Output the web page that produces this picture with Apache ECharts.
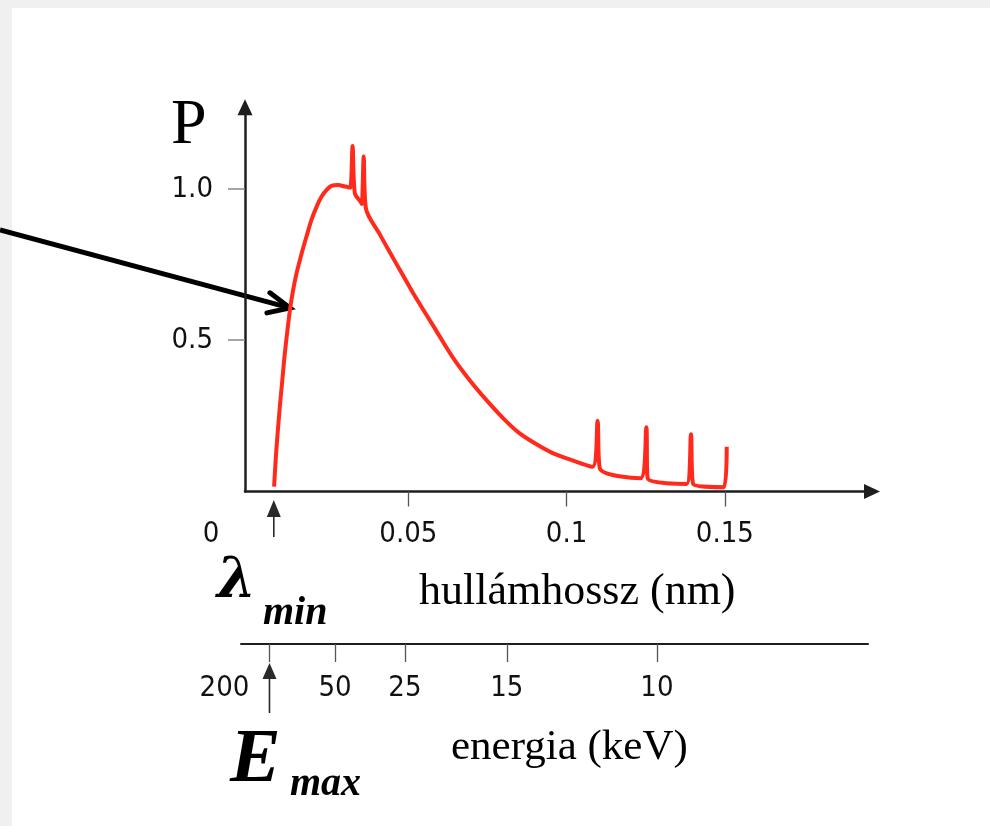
<!DOCTYPE html>
<html>
<head>
<meta charset="utf-8">
<script src="https://cdn.jsdelivr.net/npm/echarts@6/dist/echarts.min.js"></script>
<style>
  html, body { margin: 0; padding: 0; background: #fff; }
  #chart {
    width: 990px; height: 826px;
    background: #fff;
    box-shadow: inset 12px 8px 0 #f0f0f0;
  }
</style>
</head>
<body>
<div id="chart"></div>
<script>
// spectrum: wavelength (nm), relative power P
var wavelength = [0.0076, 0.0083, 0.0094, 0.0102, 0.0110, 0.0126, 0.0136, 0.0147, 0.0163, 0.0178,
    0.0194, 0.0210, 0.0226, 0.0242, 0.0257, 0.0278, 0.0300, 0.0310, 0.0317, 0.0324,
    0.0331, 0.0349, 0.0353, 0.0359, 0.0366, 0.0410, 0.0442, 0.0473, 0.0514, 0.0536,
    0.0589, 0.0642, 0.0694, 0.0747, 0.0800, 0.0852, 0.0905, 0.0958, 0.1010, 0.1082,
    0.1098, 0.1105, 0.1234, 0.1252, 0.1256, 0.1379, 0.1393, 0.1400, 0.1497, 0.1506];
var power = [0.016, 0.137, 0.280, 0.369, 0.458, 0.600, 0.666, 0.722, 0.787, 0.842,
    0.898, 0.941, 0.975, 0.997, 1.010, 1.013, 1.008, 1.006, 1.005, 1.142,
    0.986, 0.958, 0.950, 1.107, 0.936, 0.850, 0.790, 0.733, 0.658, 0.620,
    0.530, 0.441, 0.368, 0.302, 0.242, 0.192, 0.156, 0.126, 0.106, 0.082,
    0.234, 0.077, 0.044, 0.212, 0.044, 0.025, 0.189, 0.025, 0.014, 0.148];

var wlTicks = [0, 0.05, 0.1, 0.15];
var pTicks = [0.5, 1.0];

// energy scale (keV) drawn under the wavelength axis, at the wavelengths where it sits
var energyLabels = ['200', '50', '25', '15', '10'];
var energyPos = [0.0061, 0.0268, 0.0489, 0.0811, 0.1285];

var lambdaMin = 0.0075;
var eMaxPos = 0.0061;

var numFont = "'Liberation Sans Narrow', 'DejaVu Sans Condensed', 'Liberation Sans', sans-serif";
var serif = "'Liberation Serif', 'DejaVu Serif', serif";

var spectrum = wavelength.map(function (w, i) { return [w, power[i]]; });

function upArrow(tipOff, headOff, endOff) {
    return function (params, api) {
        var p = api.coord([api.value(0), 0]);
        return {
            type: 'group',
            children: [{
                type: 'polygon',
                shape: { points: [[p[0], p[1] + tipOff], [p[0] - 7, p[1] + headOff], [p[0] + 7, p[1] + headOff]] },
                style: { fill: '#2a2a2a' }
            }, {
                type: 'line',
                shape: { x1: p[0], y1: p[1] + headOff, x2: p[0], y2: p[1] + endOff },
                style: { stroke: '#2a2a2a', lineWidth: 1.6 }
            }]
        };
    };
}

function txt(text, left, top, size, family, weight, style) {
    return {
        type: 'text', left: left, top: top,
        style: {
            text: text, fill: '#000',
            fontSize: size, fontFamily: family,
            fontWeight: weight || 'normal', fontStyle: style || 'normal'
        }
    };
}

var myChart = echarts.init(document.getElementById('chart'));

var option = {
    animation: false,
    grid: [
        { left: 245, right: 118, top: 107.3, bottom: 334.5 },
        { left: 241, right: 122, top: 643, height: 1 }
    ],
    xAxis: [{
        gridIndex: 0,
        type: 'value',
        min: -0.0016,
        max: 0.1965,
        splitLine: { show: false },
        axisLine: {
            onZero: false,
            symbol: ['none', 'triangle'],
            symbolSize: [15, 16],
            lineStyle: { color: '#1e1e1e', width: 2.5 }
        },
        axisTick: {
            customValues: [0.05, 0.1, 0.15],
            length: 15,
            lineStyle: { color: '#555', width: 1.3 }
        },
        axisLabel: {
            customValues: wlTicks,
            margin: 28,
            color: '#111',
            fontFamily: numFont,
            fontSize: 29,
            formatter: function (v) {
                if (Math.abs(v) < 1e-9) return '{z|0}';
                return String(+v.toFixed(2));
            },
            rich: {
                z: { fontFamily: numFont, fontSize: 29, color: '#111', padding: [0, 78, 0, 0] }
            }
        }
    }, {
        gridIndex: 1,
        type: 'value',
        min: -0.0029,
        max: 0.1952,
        splitLine: { show: false },
        axisLine: {
            onZero: false,
            lineStyle: { color: '#1e1e1e', width: 2 }
        },
        axisTick: {
            customValues: energyPos,
            length: 18,
            lineStyle: { color: '#555', width: 1.3 }
        },
        axisLabel: {
            customValues: energyPos,
            margin: 30,
            color: '#111',
            fontFamily: numFont,
            fontSize: 29,
            formatter: function (v) {
                var best = 0;
                energyPos.forEach(function (p, i) {
                    if (Math.abs(p - v) < Math.abs(energyPos[best] - v)) best = i;
                });
                if (best === 0) return '{z|' + energyLabels[0] + '}';
                return energyLabels[best];
            },
            rich: {
                z: { fontFamily: numFont, fontSize: 29, color: '#111', padding: [0, 90, 0, 0] }
            }
        }
    }],
    yAxis: [{
        gridIndex: 0,
        type: 'value',
        min: 0,
        max: 1.27,
        splitLine: { show: false },
        axisLine: {
            show: true,
            onZero: false,
            symbol: ['none', 'triangle'],
            symbolSize: [15, 16],
            lineStyle: { color: '#1e1e1e', width: 2.5 }
        },
        axisTick: {
            show: true,
            customValues: pTicks,
            length: 17,
            lineStyle: { color: '#888', width: 1.5 }
        },
        axisLabel: {
            customValues: pTicks,
            margin: 32,
            color: '#111',
            fontFamily: numFont,
            fontSize: 29,
            padding: [8, 0, 0, 0],
            formatter: function (v) { return v.toFixed(1); }
        }
    }, {
        gridIndex: 1,
        type: 'value',
        min: 0,
        max: 1,
        show: false
    }],
    series: [{
        type: 'line',
        xAxisIndex: 0,
        yAxisIndex: 0,
        data: spectrum,
        symbol: 'none',
        smooth: 0.3,
        lineStyle: { color: '#ff2a1c', width: 4, join: 'round' }
    }, {
        type: 'custom',
        xAxisIndex: 0,
        yAxisIndex: 0,
        data: [[lambdaMin]],
        renderItem: upArrow(8.5, 25.5, 45.5)
    }, {
        type: 'custom',
        xAxisIndex: 1,
        yAxisIndex: 1,
        data: [[eMaxPos]],
        renderItem: upArrow(19, 35, 69)
    }]
};
myChart.setOption(option);

// pointer arrow from the left edge onto the rising flank of the curve
var tip = myChart.convertToPixel({ gridIndex: 0 }, [0.0126, 0.607]);
var startY = tip[1] - tip[0] * 0.269;
myChart.setOption({
    graphic: [
        txt('P', 171, 94, 64, serif),
        txt('hullámhossz (nm)', 419, 570, 44, serif),
        txt('energia (keV)', 451, 726, 43, serif),
        txt('λ', 217, 554, 56, "'DejaVu Serif', serif", 'bold', 'italic'),
        txt('min', 263, 594, 40, serif, 'bold', 'italic'),
        txt('E', 230, 723, 76, serif, 'bold', 'italic'),
        txt('max', 290, 765, 40, serif, 'bold', 'italic'),
        {
            type: 'line',
            shape: { x1: 0, y1: startY, x2: tip[0] - 2, y2: tip[1] - 0.5 },
            style: { stroke: '#000', lineWidth: 5 }
        }, {
            type: 'polyline',
            shape: { points: [[tip[0] - 20, tip[1] - 15], tip, [tip[0] - 23, tip[1] + 5]] },
            style: { stroke: '#000', lineWidth: 5, lineJoin: 'miter', lineCap: 'round', fill: null }
        }
    ]
});
</script>
</body>
</html>
